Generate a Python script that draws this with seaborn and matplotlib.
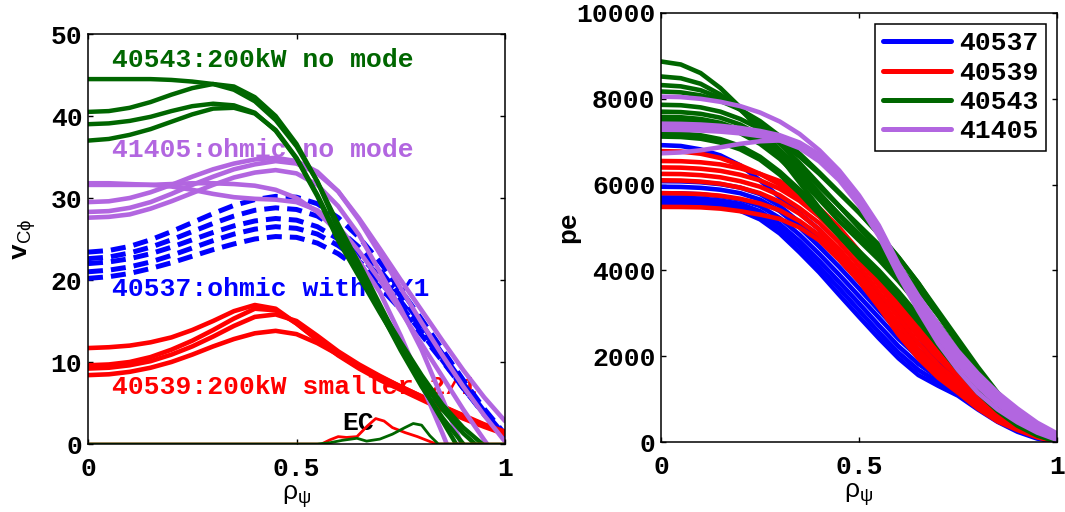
import matplotlib
matplotlib.use("Agg")
import matplotlib.pyplot as plt
from matplotlib.lines import Line2D
import pandas as pd
import seaborn as sns

# ---------------------------------------------------------------- data
rho = [0.00, 0.05, 0.10, 0.15, 0.20, 0.25, 0.30, 0.35, 0.40, 0.45, 0.50,
       0.55, 0.60, 0.65, 0.70, 0.75, 0.80, 0.85, 0.90, 0.95, 1.00]

# toroidal carbon rotation v_Cphi per time slice
vphi_40537 = [
    [23.4, 23.6, 24.1, 24.9, 25.9, 27.0, 28.1, 29.1, 29.8, 30.2, 30.1, 29.3, 27.6, 25.2, 22.2, 18.8, 15.2, 11.5, 7.8, 4.3, 1.2],
    [22.6, 22.8, 23.3, 24.0, 24.9, 25.9, 26.9, 27.8, 28.5, 28.8, 28.6, 27.8, 26.2, 24.0, 21.2, 18.0, 14.6, 11.0, 7.4, 4.0, 1.0],
    [22.0, 22.2, 22.6, 23.2, 24.0, 24.9, 25.8, 26.6, 27.2, 27.5, 27.3, 26.5, 25.0, 23.0, 20.4, 17.4, 14.1, 10.6, 7.0, 3.7, 0.6],
    [21.0, 21.2, 21.6, 22.2, 23.0, 23.9, 24.8, 25.6, 26.2, 26.5, 26.3, 25.6, 24.2, 22.3, 19.8, 16.9, 13.6, 10.2, 6.8, 3.6, 0.8],
    [20.2, 20.4, 20.8, 21.4, 22.1, 22.9, 23.7, 24.4, 25.0, 25.3, 25.2, 24.5, 23.2, 21.4, 19.1, 16.4, 13.3, 10.1, 6.8, 3.7, 1.0],
]
vphi_40539 = [
    [11.7, 11.8, 12.0, 12.4, 13.0, 13.9, 15.0, 16.2, 16.95, 16.5, 14.7, 12.7, 10.9, 9.3, 8.0, 6.8, 5.6, 4.4, 3.3, 2.3, 1.4],
    [9.6, 9.7, 10.0, 10.6, 11.5, 12.6, 13.9, 15.3, 16.5, 16.3, 14.7, 12.7, 10.8, 9.2, 7.8, 6.6, 5.4, 4.2, 3.1, 2.1, 1.2],
    [9.2, 9.3, 9.6, 10.1, 10.9, 11.9, 13.1, 14.4, 15.5, 15.8, 15.0, 13.2, 11.3, 9.7, 8.3, 7.0, 5.8, 4.6, 3.4, 2.3, 1.3],
    [8.4, 8.5, 8.8, 9.3, 10.0, 10.9, 11.9, 12.8, 13.5, 13.8, 13.4, 12.3, 10.9, 9.5, 8.2, 7.0, 5.8, 4.6, 3.5, 2.4, 1.5],
]
vphi_40543 = [
    [44.5, 44.5, 44.5, 44.5, 44.4, 44.2, 43.9, 43.2, 41.8, 39.5, 36.3, 32.0, 26.8, 22.0, 17.0, 12.0, 7.2, 2.8, -1.5, -5.0, -8.0],
    [40.5, 40.6, 41.0, 41.7, 42.6, 43.4, 43.9, 43.6, 42.3, 40.0, 36.6, 32.0, 26.2, 21.2, 16.2, 11.4, 7.0, 3.2, 0.0, -3.0, -6.0],
    [39.0, 39.1, 39.4, 39.9, 40.6, 41.2, 41.5, 41.3, 40.4, 38.2, 34.8, 30.2, 24.8, 20.4, 16.0, 11.8, 7.8, 4.2, 1.3, -1.0, -3.0],
    [37.0, 37.2, 37.7, 38.4, 39.3, 40.2, 40.9, 41.0, 40.3, 38.3, 34.9, 30.4, 25.2, 20.8, 16.6, 12.4, 8.4, 4.8, 2.0, -0.2, -2.5],
]
vphi_41405 = [
    [31.8, 31.8, 31.7, 31.6, 31.4, 31.0, 30.5, 30.1, 29.9, 29.8, 29.5, 28.5, 26.5, 23.5, 20.0, 16.2, 12.2, 8.2, 4.2, 0.5, -3.0],
    [31.6, 31.6, 31.6, 31.6, 31.7, 31.8, 31.8, 31.7, 31.5, 31.0, 30.0, 28.3, 25.8, 22.3, 18.5, 13.2, 7.3, 1.3, -5.0, -11.0, -17.0],
    [29.5, 29.6, 30.0, 30.7, 31.6, 32.6, 33.5, 34.2, 34.7, 34.9, 34.5, 33.2, 30.8, 27.3, 23.2, 19.0, 14.8, 10.8, 7.0, 3.5, 0.3],
    [28.3, 28.4, 28.8, 29.5, 30.5, 31.6, 32.6, 33.5, 34.1, 34.5, 34.2, 33.0, 30.8, 27.5, 23.8, 20.0, 16.3, 12.6, 9.0, 5.7, 2.8],
    [27.6, 27.7, 28.0, 28.7, 29.6, 30.6, 31.6, 32.5, 33.1, 33.4, 33.0, 31.6, 29.0, 25.5, 21.0, 16.5, 11.5, 5.5, -0.5, -6.5, -12.0],
]

# EC-heated rotation traces (thin lines)
rho_ec_40539 = [0.0, 0.56, 0.58, 0.60, 0.62, 0.645, 0.67, 0.69, 0.71, 0.73, 0.76, 0.79, 0.81, 0.835, 1.0]
vphi_ec_40539 = [0.0, 0.0, 0.5, 0.9, 0.8, 0.9, 2.2, 3.1, 2.8, 2.0, 1.4, 0.9, 0.5, 0.0, 0.0]
rho_ec_40543 = [0.0, 0.55, 0.58, 0.61, 0.645, 0.668, 0.70, 0.73, 0.76, 0.78, 0.80, 0.82, 0.84, 1.0]
vphi_ec_40543 = [0.0, 0.0, 0.15, 0.45, 0.7, 0.35, 0.6, 1.2, 2.0, 2.5, 2.3, 1.0, 0.0, 0.0]

# electron pressure pe per time slice
pe_40537 = [
    [6920, 6900, 6820, 6680, 6450, 6100, 5700, 5330, 4950, 4450, 3950, 3450, 2950, 2500, 2050, 1650, 1250, 900, 550, 250, 20],
    [6080, 6075, 6055, 6010, 5930, 5780, 5500, 5120, 4700, 4250, 3750, 3250, 2750, 2300, 1900, 1500, 1150, 800, 500, 230, 10],
    [5950, 5945, 5925, 5880, 5800, 5650, 5380, 5000, 4550, 4080, 3580, 3070, 2580, 2150, 1750, 1400, 1050, 720, 430, 190, 5],
    [5800, 5795, 5775, 5730, 5650, 5500, 5220, 4830, 4380, 3900, 3400, 2900, 2400, 1980, 1620, 1300, 970, 650, 380, 160, 0],
    [5700, 5695, 5675, 5630, 5550, 5380, 5080, 4680, 4220, 3730, 3230, 2720, 2230, 1820, 1500, 1220, 900, 590, 330, 130, 0],
    [5620, 5615, 5595, 5550, 5460, 5280, 4970, 4550, 4080, 3580, 3070, 2560, 2080, 1680, 1400, 1150, 830, 530, 290, 100, 0],
    [5560, 5555, 5535, 5490, 5390, 5190, 4860, 4420, 3950, 3430, 2920, 2420, 1950, 1560, 1310, 1080, 760, 470, 240, 80, 0],
]
pe_40539 = [
    [6780, 6770, 6720, 6620, 6450, 6250, 6000, 5700, 5350, 4900, 4350, 3750, 3150, 2550, 2050, 1620, 1200, 800, 470, 210, 40],
    [6550, 6545, 6520, 6470, 6380, 6250, 6080, 5800, 5450, 5000, 4450, 3850, 3250, 2650, 2150, 1700, 1250, 850, 500, 230, 50],
    [6400, 6395, 6370, 6320, 6230, 6100, 5900, 5620, 5250, 4800, 4250, 3650, 3050, 2450, 1950, 1520, 1100, 720, 420, 190, 30],
    [6250, 6245, 6220, 6170, 6080, 5950, 5750, 5450, 5100, 4650, 4100, 3500, 2900, 2300, 1800, 1400, 1000, 650, 370, 160, 20],
    [6100, 6095, 6070, 6020, 5930, 5800, 5600, 5320, 4950, 4500, 3950, 3350, 2750, 2150, 1680, 1300, 920, 590, 330, 140, 10],
    [5800, 5795, 5780, 5740, 5670, 5560, 5400, 5150, 4820, 4380, 3850, 3250, 2600, 2050, 1580, 1200, 830, 520, 300, 120, 5],
    [5480, 5478, 5470, 5440, 5380, 5300, 5200, 5000, 4700, 4250, 3750, 3150, 2500, 1950, 1500, 1150, 780, 480, 280, 110, 0],
]
pe_40543 = [
    [8870, 8800, 8600, 8250, 7800, 7250, 6650, 6050, 5450, 4900, 4350, 3900, 3400, 2850, 2250, 1680, 1150, 720, 380, 150, 10],
    [8520, 8480, 8350, 8100, 7750, 7300, 6800, 6300, 5800, 5300, 4800, 4300, 3800, 3250, 2650, 2000, 1400, 900, 500, 200, 20],
    [8320, 8290, 8200, 8020, 7750, 7400, 6950, 6500, 6000, 5500, 5000, 4500, 3950, 3350, 2700, 2050, 1450, 950, 530, 220, 30],
    [8170, 8150, 8080, 7950, 7750, 7480, 7130, 6720, 6280, 5820, 5350, 4850, 4300, 3700, 3000, 2350, 1700, 1130, 680, 320, 50],
    [7860, 7850, 7800, 7700, 7530, 7300, 7000, 6650, 6250, 5800, 5350, 4850, 4300, 3700, 3050, 2400, 1750, 1150, 700, 330, 60],
    [7700, 7690, 7650, 7560, 7400, 7150, 6800, 6400, 5950, 5500, 5050, 4600, 4100, 3550, 2950, 2300, 1650, 1100, 650, 300, 40],
    [7580, 7570, 7530, 7440, 7280, 7030, 6680, 6250, 5780, 5300, 4850, 4400, 3900, 3350, 2750, 2150, 1550, 1030, 600, 270, 30],
    [7500, 7490, 7450, 7360, 7200, 6950, 6600, 6150, 5650, 5150, 4700, 4250, 3750, 3200, 2600, 2000, 1450, 950, 550, 240, 20],
    [7200, 7190, 7150, 7060, 6900, 6650, 6300, 5880, 5400, 4900, 4450, 4000, 3500, 2950, 2400, 1850, 1330, 870, 500, 210, 10],
    [7120, 7110, 7070, 6980, 6820, 6580, 6230, 5800, 5300, 4800, 4300, 3850, 3350, 2800, 2250, 1700, 1200, 780, 430, 170, 0],
]
pe_41405 = [
    [8050, 8040, 8000, 7930, 7830, 7680, 7470, 7180, 6800, 6330, 5750, 5050, 4150, 3400, 2750, 2120, 1600, 1150, 780, 450, 200],
    [7420, 7415, 7400, 7370, 7320, 7250, 7150, 6980, 6700, 6280, 5700, 5000, 4100, 3320, 2650, 2030, 1500, 1060, 700, 380, 150],
    [7330, 7325, 7310, 7280, 7240, 7170, 7070, 6900, 6600, 6180, 5600, 4880, 3980, 3200, 2520, 1900, 1380, 960, 610, 320, 110],
    [7280, 7275, 7260, 7235, 7195, 7130, 7030, 6850, 6540, 6100, 5520, 4800, 3880, 3060, 2300, 1680, 1150, 760, 460, 220, 50],
    [6730, 6750, 6800, 6870, 6950, 7010, 7030, 6920, 6650, 6200, 5600, 4850, 3950, 3150, 2450, 1820, 1300, 880, 540, 260, 60],
]

shots = ["40537", "40539", "40543", "41405"]
shot_colors = ["#0000ff", "#ff0000", "#006600", "#b266e0"]
x_ticks = [0, 0.5, 1]
x_tick_labels = ["0", "0.5", "1"]
vphi_ticks = [0, 10, 20, 30, 40, 50]
pe_ticks = [0, 2000, 4000, 6000, 8000, 10000]

# ---------------------------------------------------------------- style
sns.set_style("ticks")
plt.rcParams.update({
    "font.family": ["Liberation Mono", "DejaVu Sans"],
    "font.weight": "bold",
    "font.size": 19,
    "mathtext.fontset": "custom",
    "mathtext.rm": "Liberation Sans:weight=normal",
    "mathtext.it": "Liberation Sans:weight=normal",
    "mathtext.bf": "Liberation Sans:weight=bold",
    "mathtext.sf": "Liberation Sans:weight=normal",
    "text.color": "black",
    "axes.labelcolor": "black",
    "axes.labelweight": "bold",
    "axes.edgecolor": "black",
    "axes.linewidth": 1.1,
    "xtick.color": "black",
    "ytick.color": "black",
    "xtick.direction": "in",
    "ytick.direction": "in",
    "xtick.top": True,
    "ytick.right": True,
    "xtick.major.size": 3.8,
    "ytick.major.size": 3.8,
    "xtick.major.width": 1.0,
    "ytick.major.width": 1.0,
    "xtick.major.pad": 9,
    "ytick.major.pad": 4,
    "xtick.labelsize": 19,
    "ytick.labelsize": 19,
})


def long_frame(curves, x):
    rows = []
    for run, values in enumerate(curves):
        for xi, yi in zip(x, values):
            rows.append((run, xi, yi))
    return pd.DataFrame(rows, columns=["run", "rho", "val"])


def draw(ax, curves, color, lw, x=rho, **kw):
    sns.lineplot(data=long_frame(curves, x), x="rho", y="val", units="run",
                 estimator=None, sort=False, color=color, linewidth=lw,
                 legend=False, ax=ax, **kw)


fig = plt.figure(figsize=(10.65, 5.12), dpi=100)
ax1 = fig.add_axes([88 / 1065, 68 / 512, 417 / 1065, 410 / 512])
ax2 = fig.add_axes([661 / 1065, 70 / 512, 396 / 1065, 429 / 512])

# ---------------------------------------------------------------- left: rotation
c_b, c_r, c_g, c_p = shot_colors
draw(ax1, vphi_40537, c_b, 3.6, linestyle=(0, (3.0, 1.6)))
draw(ax1, vphi_40539, c_r, 3.3)
draw(ax1, vphi_41405, c_p, 3.3)
draw(ax1, vphi_40543, c_g, 3.2)
draw(ax1, [vphi_ec_40539], c_r, 2.0, x=rho_ec_40539)
draw(ax1, [vphi_ec_40543], c_g, 2.0, x=rho_ec_40543)

notes = [
    (0.057, 46.8, "40543:200kW no mode", c_g),
    (0.057, 35.85, "41405:ohmic no mode", c_p),
    (0.057, 18.9, "40537:ohmic with 2X1", c_b),
    (0.057, 7.0, "40539:200kW smaller 2/1", c_r),
    (0.61, 2.6, "EC", "black"),
]
for x0, y0, s, col in notes:
    ax1.text(x0, y0, s, color=col, ha="left", va="center", fontsize=19,
             fontweight="bold", zorder=1)

ax1.set_xlim(0, 1)
ax1.set_ylim(0, 50)
ax1.set_xticks(x_ticks)
ax1.set_xticklabels(x_tick_labels)
ax1.set_yticks(vphi_ticks)
ax1.set_yticklabels([str(t) for t in vphi_ticks])
ax1.set_xlabel(r"$\rho_{\psi}$", fontsize=19, labelpad=2)
ax1.set_ylabel(r"v$_{\mathrm{C\phi}}$", fontsize=19, fontweight="bold")
ax1.yaxis.set_label_coords(-0.12, 0.5)

# ---------------------------------------------------------------- right: pressure
for curves, col in zip([pe_40537, pe_40539, pe_40543, pe_41405], shot_colors):
    draw(ax2, curves, col, 3.3)

ax2.set_xlim(0, 1)
ax2.set_ylim(0, 10000)
ax2.set_xticks(x_ticks)
ax2.set_xticklabels(x_tick_labels)
ax2.set_yticks(pe_ticks)
ax2.set_yticklabels([str(t) for t in pe_ticks])
ax2.set_xlabel(r"$\rho_{\psi}$", fontsize=19, labelpad=2)
ax2.set_ylabel("pe", fontsize=19, fontweight="bold")
ax2.yaxis.set_label_coords(-0.205, 0.5)

handles = [Line2D([], [], color=c, lw=3.6) for c in shot_colors]
leg = ax2.legend(handles, shots, loc="upper right", frameon=True, fancybox=False,
                 framealpha=1, edgecolor="black", handlelength=2.6,
                 handletextpad=0.3, borderpad=0.3, labelspacing=0.2,
                 borderaxespad=0.4, prop={"family": "Liberation Mono",
                                          "weight": "bold", "size": 19})
leg.get_frame().set_linewidth(1.1)

for ax in (ax1, ax2):
    for sp in ax.spines.values():
        sp.set_visible(True)
        sp.set_color("black")

fig.savefig("out.png", dpi=100, facecolor="white")
